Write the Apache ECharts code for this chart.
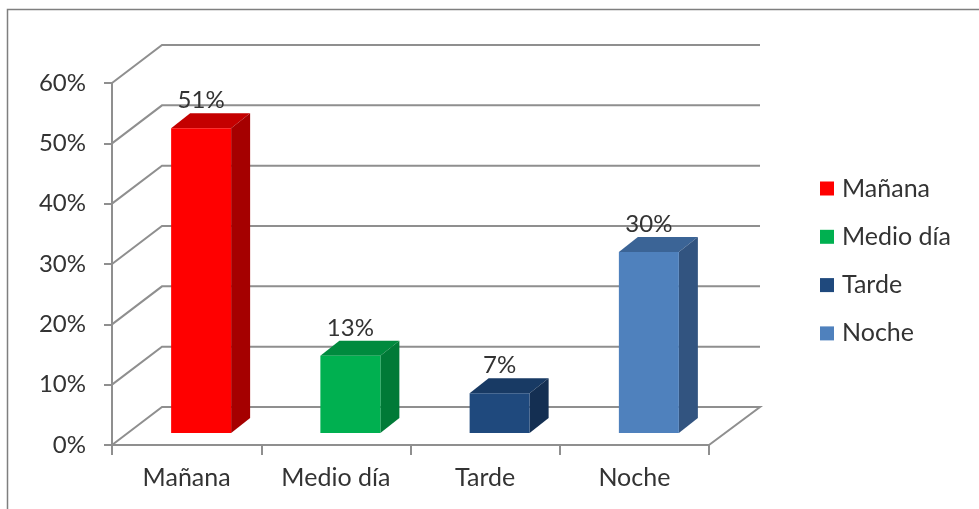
<!DOCTYPE html>
<html>
<head>
<meta charset="utf-8">
<title>Mañana</title>
<style>
	html, body { margin: 0; padding: 0; background: #fff; }
	#main { width: 979px; height: 509px; }
</style>
<script src="https://cdn.jsdelivr.net/npm/echarts@6/dist/echarts.min.js"></script>
</head>
<body>
<div id="main"></div>
<script>
// datos
var categories = ["Mañana", "Medio día", "Tarde", "Noche"];
var values = [50.5, 12.8, 6.6, 30];
var yTicks = [0, 10, 20, 30, 40, 50, 60];
var frontColors = ["#ff0000", "#00b050", "#1f497d", "#4f81bd"];
var topColors = ["#c40000", "#008a3e", "#183a64", "#3b6496"];
var sideColors = ["#a50000", "#007a37", "#142f52", "#325480"];

var myChart = echarts.init(document.getElementById("main"));
var textColor = "#333333";
var lineColor = "#8f8f8f";
var fontName = "Lato";

// profundidad del "3D"
var wallDx = 50, wallRightDx = 51, wallDy = -38;
var barShiftX = 14.5, barShiftY = -12;
var barDepthX = 19, barDepthY = -15;

function renderWall(params, api) {
	var cs = params.coordSys;
	var p = api.coord([0, api.value(0)]);
	var y = p[1];
	var left = cs.x, right = cs.x + cs.width;
	var points = [[left, y], [left + wallDx, y + wallDy], [right + wallRightDx, y + wallDy]];
	// el suelo cierra hacia el eje frontal
	if (api.value(0) === 0) {
		points.push([right, y]);
	}
	return {
		type: "polyline",
		shape: { points: points },
		style: { stroke: lineColor, lineWidth: 2, fill: null }
	};
}

function renderBar(params, api) {
	var idx = api.value(0);
	var val = api.value(1);
	var c = api.coord([idx, val]);
	var c0 = api.coord([idx, 0]);
	var w = api.size([1, 0])[0] * 0.402;
	var x0 = c[0] - w / 2 + barShiftX, x1 = x0 + w;
	var yTop = c[1] + barShiftY, yBot = c0[1] + barShiftY;
	return {
		type: "group",
		children: [{
			type: "polygon",
			shape: { points: [[x0, yTop], [x1, yTop], [x1 + barDepthX, yTop + barDepthY], [x0 + barDepthX, yTop + barDepthY]] },
			style: { fill: topColors[idx] }
		}, {
			type: "polygon",
			shape: { points: [[x1, yTop], [x1 + barDepthX, yTop + barDepthY], [x1 + barDepthX, yBot + barDepthY], [x1, yBot]] },
			style: { fill: sideColors[idx] }
		}, {
			type: "rect",
			shape: { x: x0, y: yTop, width: w, height: yBot - yTop },
			style: { fill: frontColors[idx] }
		}, {
			type: "text",
			z2: 10,
			style: {
				x: x0 + w / 2,
				y: yTop - 28,
				text: Math.round(val) + "%",
				fill: textColor,
				font: "24px " + fontName,
				align: "center",
				verticalAlign: "middle"
			}
		}]
	};
}

var seriesList = [{
	name: "pared",
	type: "custom",
	renderItem: renderWall,
	data: yTicks.map(function(t) { return [t]; }),
	encode: { y: 0 },
	silent: true,
	z: 1
}];
categories.forEach(function(name, i) {
	seriesList.push({
		name: name,
		type: "custom",
		renderItem: renderBar,
		data: [[i, values[i]]],
		encode: { x: 0, y: 1 },
		itemStyle: { color: frontColors[i] },
		z: 3
	});
});

myChart.setOption({
	animation: false,
	backgroundColor: "#fff",
	textStyle: { fontFamily: fontName },
	graphic: [{
		type: "polyline",
		silent: true,
		shape: { points: [[7.5, 509], [7.5, 9.5], [979, 9.5]] },
		style: { stroke: "#7f7f7f", lineWidth: 1.5, fill: null }
	}],
	grid: { left: 112, right: 270, top: 83, bottom: 64 },
	legend: {
		data: categories,
		orient: "vertical",
		left: 820,
		top: 176,
		padding: 0,
		icon: "rect",
		itemWidth: 14,
		itemHeight: 14,
		itemGap: 23.3,
		textStyle: { color: textColor, fontSize: 25, fontFamily: fontName, padding: [0, 0, 0, 3] }
	},
	xAxis: {
		type: "category",
		data: categories,
		axisLine: { lineStyle: { color: lineColor, width: 2 } },
		axisTick: { show: true, length: 10, lineStyle: { color: lineColor, width: 2 } },
		axisLabel: { color: textColor, fontSize: 25, margin: 20, fontFamily: fontName },
		splitLine: { show: false }
	},
	yAxis: {
		type: "value",
		min: 0,
		max: 60,
		interval: 10,
		axisLine: { show: true, lineStyle: { color: lineColor, width: 2 } },
		axisTick: { show: true, length: 8, lineStyle: { color: lineColor, width: 2 } },
		axisLabel: { color: textColor, fontSize: 24, margin: 26, fontFamily: fontName, formatter: "{value}%" },
		splitLine: { show: false }
	},
	series: seriesList
});
</script>
</body>
</html>
